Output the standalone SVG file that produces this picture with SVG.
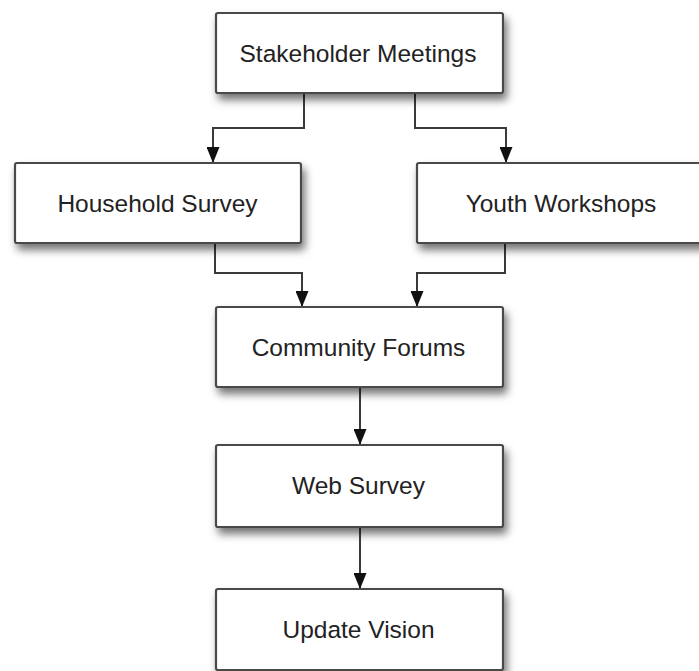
<svg xmlns="http://www.w3.org/2000/svg" width="699" height="671" viewBox="0 0 699 671">
<style>
.box{fill:#fff;stroke:#4a4a4a;stroke-width:2.2;filter:url(#sh)}
.lbl{font-family:"Liberation Sans",Arial,sans-serif;font-size:24.5px;fill:#222;text-anchor:middle}
.con{fill:none;stroke:#3a3a3a;stroke-width:2;marker-end:url(#ah)}
</style>
<defs>
<filter id="sh" x="-10%" y="-20%" width="130%" height="150%">
<feDropShadow dx="3" dy="6" stdDeviation="4" flood-color="#000" flood-opacity="0.55"/>
</filter>
<marker id="ah" markerWidth="16" markerHeight="13" refX="15" refY="6.5" orient="auto" markerUnits="userSpaceOnUse" viewBox="0 0 16 13">
<path d="M0,0 L16,6.5 L0,13 Z" fill="#111"/>
</marker>
</defs>
<rect width="699" height="671" fill="#fff"/>
<g id="connectors">
<path class="con" d="M304,93 V128 H213 V162"/>
<path class="con" d="M415,93 V128 H506 V162"/>
<path class="con" d="M215,243 V273 H302 V306"/>
<path class="con" d="M505,243 V273 H417 V306"/>
<path class="con" d="M360,387 V444"/>
<path class="con" d="M360,527 V588"/>
</g>
<g id="stakeholder">
<rect class="box" x="216" y="13" width="287" height="80" rx="2"/>
<text class="lbl" x="358" y="62">Stakeholder Meetings</text>
</g>
<g id="household">
<rect class="box" x="15" y="163" width="286" height="80" rx="2"/>
<text class="lbl" x="157.5" y="212">Household Survey</text>
</g>
<g id="youth">
<rect class="box" x="417" y="163" width="287" height="80" rx="2"/>
<text class="lbl" x="561" y="212">Youth Workshops</text>
</g>
<g id="community">
<rect class="box" x="216" y="307" width="287" height="80" rx="2"/>
<text class="lbl" x="358.5" y="356">Community Forums</text>
</g>
<g id="websurvey">
<rect class="box" x="216" y="445" width="287" height="82" rx="2"/>
<text class="lbl" x="358.5" y="494">Web Survey</text>
</g>
<g id="update">
<rect class="box" x="216" y="589" width="287" height="81" rx="2"/>
<text class="lbl" x="358.5" y="638">Update Vision</text>
</g>
</svg>
